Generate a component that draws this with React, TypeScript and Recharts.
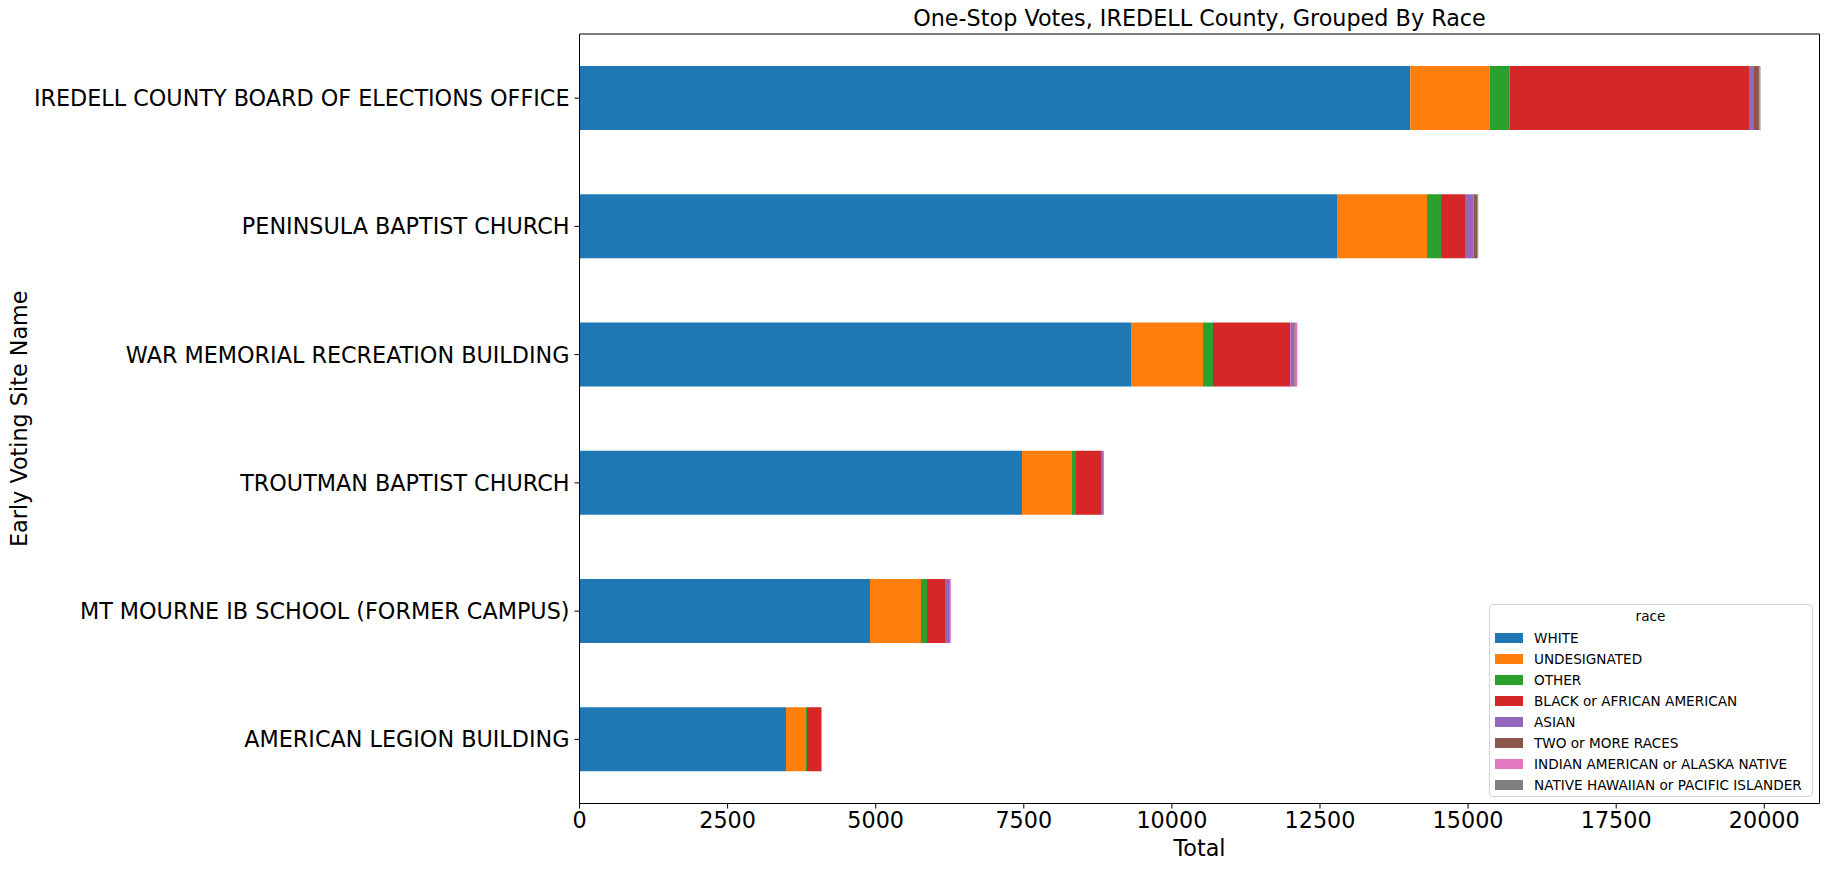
import { BarChart, Bar, XAxis, YAxis, Legend } from 'recharts'

const SITES = [
  'IREDELL COUNTY BOARD OF ELECTIONS OFFICE',
  'PENINSULA BAPTIST CHURCH',
  'WAR MEMORIAL RECREATION BUILDING',
  'TROUTMAN BAPTIST CHURCH',
  'MT MOURNE IB SCHOOL (FORMER CAMPUS)',
  'AMERICAN LEGION BUILDING',
]

const RACES = [
  'WHITE',
  'UNDESIGNATED',
  'OTHER',
  'BLACK or AFRICAN AMERICAN',
  'ASIAN',
  'TWO or MORE RACES',
  'INDIAN AMERICAN or ALASKA NATIVE',
  'NATIVE HAWAIIAN or PACIFIC ISLANDER',
]

const COLORS = ['#1f77b4', '#ff7f0e', '#2ca02c', '#d62728', '#9467bd', '#8c564b', '#e377c2', '#7f7f7f']

// votes per site, same order as SITES
const WHITE = [14024, 12787, 9310, 7470, 4904, 3486]
const UNDESIGNATED = [1339, 1519, 1215, 844, 861, 337]
const OTHER = [334, 237, 169, 67, 101, 17]
const BLACK = [4045, 405, 1306, 422, 304, 237]
const ASIAN = [84, 146, 68, 34, 79, 5]
const TWO_OR_MORE = [84, 56, 22, 10, 8, 5]
const INDIAN = [17, 17, 22, 7, 14, 7]
const HAWAIIAN = [8, 5, 5, 0, 0, 0]

const SERIES = [WHITE, UNDESIGNATED, OTHER, BLACK, ASIAN, TWO_OR_MORE, INDIAN, HAWAIIAN]

const X_TICKS = [0, 2500, 5000, 7500, 10000, 12500, 15000, 17500, 20000]

const data = SITES.map((site, i) => {
  const row: Record<string, string | number> = { site }
  RACES.forEach((r, k) => {
    row[r] = SERIES[k][i]
  })
  return row
})

const maxTotal = Math.max(...SITES.map((_, i) => SERIES.reduce((s, arr) => s + arr[i], 0)))
const xMax = Math.round(maxTotal * 1.05)

const FONT = '"DejaVu Sans", sans-serif'

function LegendBox() {
  return (
    <div
      style={{
        border: '1px solid #d4d4d4',
        borderRadius: 4,
        background: 'rgba(255,255,255,0.8)',
        fontFamily: FONT,
        fontSize: 13.6,
        color: '#000',
        padding: '0 6px 1px 5px',
        boxSizing: 'border-box',
        width: 324,
      }}
    >
      <div style={{ height: 22, lineHeight: '22px', textAlign: 'center' }}>race</div>
      {RACES.map((r, k) => (
        <div key={r} style={{ height: 21, display: 'flex', alignItems: 'center', whiteSpace: 'nowrap' }}>
          <span style={{ display: 'inline-block', width: 28, height: 10, background: COLORS[k], marginRight: 11 }} />
          <span>{r}</span>
        </div>
      ))}
    </div>
  )
}

const YLabel = (props: any) => {
  const vb = props.viewBox || {}
  const cx = 19
  const cy = vb.y + vb.height / 2
  return (
    <text
      x={cx}
      y={cy}
      transform={`rotate(-90, ${cx}, ${cy})`}
      textAnchor="middle"
      dominantBaseline="central"
      fontSize={22.3}
      fontFamily={FONT}
      fill="#000"
    >
      Early Voting Site Name
    </text>
  )
}

const TitleLabel = (props: any) => {
  const vb = props.viewBox || {}
  return (
    <text
      x={vb.x + vb.width / 2}
      y={vb.y - 7}
      textAnchor="middle"
      fontSize={22.3}
      fontFamily={FONT}
      fill="#000"
    >
      One-Stop Votes, IREDELL County, Grouped By Race
    </text>
  )
}

export default function App() {
  return (
    <div style={{ position: 'absolute', left: 0, top: 0, background: '#fff' }}>
      <BarChart
        width={1829}
        height={869}
        data={data}
        layout="vertical"
        barCategoryGap="25%"
        margin={{ top: 33, right: 8.5, bottom: 0, left: 0 }}
        style={{ fontFamily: FONT }}
      >
        <XAxis
          type="number"
          domain={[0, xMax]}
          ticks={X_TICKS}
          height={65.5}
          tickSize={5}
          tickMargin={4}
          stroke="#000"
          tick={{ fill: '#000', fontSize: 22.3 }}
          label={{ value: 'Total', position: 'insideBottom', offset: 13, fill: '#000', fontSize: 22.3 }}
        />
        <XAxis
          xAxisId="top"
          orientation="top"
          type="number"
          domain={[0, xMax]}
          height={1}
          tick={false}
          tickLine={false}
          stroke="#000"
          label={<TitleLabel />}
        />
        <YAxis
          type="category"
          dataKey="site"
          width={579.5}
          interval={0}
          tickSize={5}
          tickMargin={5}
          stroke="#000"
          tick={{ fill: '#000', fontSize: 22.3 }}
          label={<YLabel />}
        />
        <YAxis
          yAxisId="right"
          orientation="right"
          type="category"
          dataKey="site"
          width={1}
          tick={false}
          tickLine={false}
          stroke="#000"
        />
        <Legend
          layout="vertical"
          align="center"
          verticalAlign="middle"
          content={() => <LegendBox />}
          wrapperStyle={{ left: 1489, top: 604, width: 324 }}
        />
        {RACES.map((r, k) => (
          <Bar key={r} dataKey={r} stackId="race" fill={COLORS[k]} isAnimationActive={false} />
        ))}
      </BarChart>
    </div>
  )
}
